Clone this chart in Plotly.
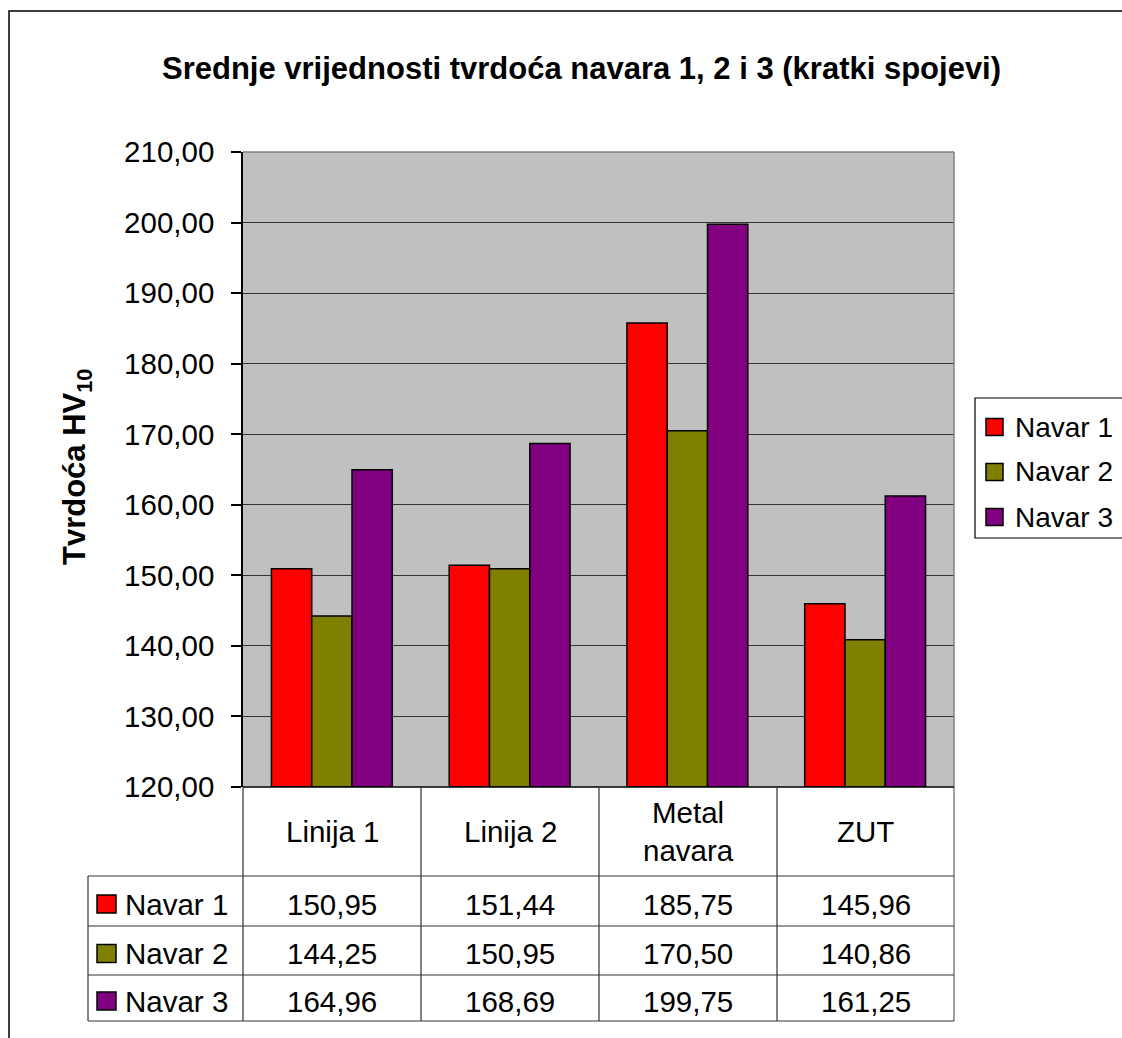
import plotly.graph_objects as go

# Hardness data (HV10) per measuring position and weld
categories = ["Linija 1", "Linija 2", "Metal navara", "ZUT"]
category_labels = ["Linija 1", "Linija 2", "Metal<br>navara", "ZUT"]
series_names = ["Navar 1", "Navar 2", "Navar 3"]
navar_1 = [150.95, 151.44, 185.75, 145.96]
navar_2 = [144.25, 150.95, 170.50, 140.86]
navar_3 = [164.96, 168.69, 199.75, 161.25]
series_values = [navar_1, navar_2, navar_3]
series_colors = ["#FF0000", "#808000", "#800080"]

title_text = "Srednje vrijednosti tvrdoća navara 1, 2 i 3 (kratki spojevi)"
y_title = "<b>Tvrdoća HV<sub>10</sub></b>"
y_min, y_max, y_step = 120, 210, 10

W, H = 1122, 1038
FONT = "Liberation Sans, Arial, sans-serif"
FS = 29.5


def px(x):
    return x / W


def py(y):
    return 1 - y / H


# plot area in pixels
PL, PR, PT, PB = 243, 954, 152, 787
# data table geometry
TL = 88
col_edges = [243, 421, 599, 777, 954]
header_bottom = 876
row_edges = [876, 926, 975, 1021]

fig = go.Figure()
for name, vals, color in zip(series_names, series_values, series_colors):
    fig.add_trace(go.Bar(
        x=categories, y=[v - y_min for v in vals], base=y_min, name=name,
        marker=dict(color=color, line=dict(color="#000000", width=1.5)),
        showlegend=False,
    ))

shapes = []
annotations = []

# outer chart border (extends past the right and bottom edges)
shapes.append(dict(type="rect", xref="paper", yref="paper",
                   x0=px(9), x1=px(W + 20), y0=py(H + 20), y1=py(11),
                   line=dict(color="#000000", width=1.5)))

# plot area frame: gray top/right
shapes.append(dict(type="line", xref="paper", yref="paper",
                   x0=px(PL), x1=px(PR), y0=py(PT), y1=py(PT),
                   line=dict(color="#808080", width=1.5)))
shapes.append(dict(type="line", xref="paper", yref="paper",
                   x0=px(PR), x1=px(PR), y0=py(PT), y1=py(row_edges[-1]),
                   line=dict(color="#808080", width=1.5)))

# data table grid
line_col = "#333333"
# horizontal lines
shapes.append(dict(type="line", xref="paper", yref="paper",
                   x0=px(PL), x1=px(PR), y0=py(PB), y1=py(PB),
                   line=dict(color="#000000", width=1.5)))
for yy in row_edges:
    shapes.append(dict(type="line", xref="paper", yref="paper",
                       x0=px(TL), x1=px(PR), y0=py(yy), y1=py(yy),
                       line=dict(color=line_col, width=1.2)))
# vertical lines
for xx in col_edges[:-1]:
    shapes.append(dict(type="line", xref="paper", yref="paper",
                       x0=px(xx), x1=px(xx), y0=py(PB), y1=py(row_edges[-1]),
                       line=dict(color=line_col, width=1.2)))
shapes.append(dict(type="line", xref="paper", yref="paper",
                   x0=px(TL), x1=px(TL), y0=py(header_bottom), y1=py(row_edges[-1]),
                   line=dict(color=line_col, width=1.2)))

# header labels
for i, lab in enumerate(category_labels):
    cx = (col_edges[i] + col_edges[i + 1]) / 2
    annotations.append(dict(xref="paper", yref="paper", x=px(cx),
                            y=py((PB + header_bottom) / 2), text=lab,
                            showarrow=False, xanchor="center", yanchor="middle",
                            font=dict(family=FONT, size=FS, color="#000000")))

# data rows with legend keys
for r, (name, vals, color) in enumerate(zip(series_names, series_values, series_colors)):
    cy = (row_edges[r] + row_edges[r + 1]) / 2 + 3
    shapes.append(dict(type="rect", xref="paper", yref="paper",
                       x0=px(97), x1=px(116), y0=py(cy + 9), y1=py(cy - 9),
                       fillcolor=color, line=dict(color="#000000", width=1.5)))
    annotations.append(dict(xref="paper", yref="paper", x=px(123), y=py(cy),
                            text=name, showarrow=False, xanchor="left", yanchor="middle",
                            font=dict(family=FONT, size=FS, color="#000000")))
    for i, v in enumerate(vals):
        cx = (col_edges[i] + col_edges[i + 1]) / 2
        annotations.append(dict(xref="paper", yref="paper", x=px(cx), y=py(cy),
                                text=f"{v:.2f}".replace(".", ","), showarrow=False,
                                xanchor="center", yanchor="middle",
                                font=dict(family=FONT, size=FS, color="#000000")))

# legend box
shapes.append(dict(type="rect", xref="paper", yref="paper",
                   x0=px(975), x1=px(W + 20), y0=py(538), y1=py(398),
                   fillcolor="#FFFFFF", line=dict(color="#000000", width=1.2)))
for r, (name, color) in enumerate(zip(series_names, series_colors)):
    cy = 427 + 45 * r
    shapes.append(dict(type="rect", xref="paper", yref="paper",
                       x0=px(986), x1=px(1003), y0=py(cy + 8.5), y1=py(cy - 8.5),
                       fillcolor=color, line=dict(color="#000000", width=1.5)))
    annotations.append(dict(xref="paper", yref="paper", x=px(1013), y=py(cy),
                            text=name, showarrow=False, xanchor="left", yanchor="middle",
                            font=dict(family=FONT, size=28, color="#000000")))

# titles
annotations.append(dict(xref="paper", yref="paper", x=px(581), y=py(68),
                        text=f"<b>{title_text}</b>", showarrow=False,
                        xanchor="center", yanchor="middle",
                        font=dict(family=FONT, size=31, color="#000000")))
annotations.append(dict(xref="paper", yref="paper", x=px(77), y=py(467),
                        text=y_title, showarrow=False, textangle=-90,
                        xanchor="center", yanchor="middle",
                        font=dict(family=FONT, size=31, color="#000000")))

fig.update_layout(
    width=W, height=H,
    margin=dict(l=0, r=0, t=0, b=0, autoexpand=False),
    paper_bgcolor="#FFFFFF",
    plot_bgcolor="#C0C0C0",
    barmode="group", bargap=0.32, bargroupgap=0,
    separators=", ",
    shapes=shapes, annotations=annotations,
    showlegend=False,
    xaxis=dict(domain=[px(PL), px(PR)], range=[-0.5, 3.5],
               showticklabels=False, ticks="", showgrid=False, zeroline=False,
               showline=False, fixedrange=True),
    yaxis=dict(domain=[py(PB), py(PT)], range=[y_min, y_max], dtick=y_step,
               tick0=y_min, tickformat=".2f", ticks="outside", ticklen=10,
               tickwidth=1.5, tickcolor="#000000", showline=True,
               linecolor="#000000", linewidth=1.5, showgrid=True,
               gridcolor="#333333", gridwidth=1.2, zeroline=False,
               ticklabelstandoff=11,
               tickfont=dict(family=FONT, size=FS, color="#000000")),
)

fig.write_html("out.html")
